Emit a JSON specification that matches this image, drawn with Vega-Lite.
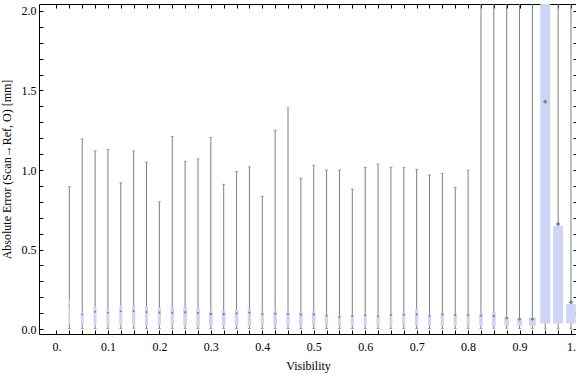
{
  "$schema": "https://vega.github.io/schema/vega-lite/v6.json",
  "autosize": {"type": "none"},
  "padding": {"left": 39, "top": 4, "right": 0, "bottom": 41},
  "width": 538,
  "height": 330,
  "background": "white",
  "config": {
    "view": {"stroke": null},
    "axis": {
      "grid": false,
      "domainColor": "black",
      "tickColor": "black",
      "labelColor": "black",
      "titleColor": "black",
      "labelFont": "Liberation Serif",
      "titleFont": "Liberation Serif",
      "labelFontSize": 12,
      "titleFontSize": 12,
      "titleFontWeight": "normal",
      "tickSize": -4,
      "labelPadding": 6
    }
  },
  "data": {
    "values": [
      {"v": 0.025, "lo": 0.003, "q1": 0.031, "med": 0.150, "q3": 0.187, "hi": 0.895, "n": 10},
      {"v": 0.05, "lo": 0.003, "q1": 0.025, "med": 0.092, "q3": 0.107, "hi": 1.195, "n": 28},
      {"v": 0.075, "lo": 0.003, "q1": 0.025, "med": 0.109, "q3": 0.138, "hi": 1.12, "n": 30},
      {"v": 0.1, "lo": 0.003, "q1": 0.021, "med": 0.103, "q3": 0.130, "hi": 1.13, "n": 30},
      {"v": 0.125, "lo": 0.003, "q1": 0.025, "med": 0.111, "q3": 0.145, "hi": 0.92, "n": 30},
      {"v": 0.15, "lo": 0.005, "q1": 0.021, "med": 0.113, "q3": 0.147, "hi": 1.12, "n": 32},
      {"v": 0.175, "lo": 0.003, "q1": 0.021, "med": 0.107, "q3": 0.143, "hi": 1.05, "n": 32},
      {"v": 0.2, "lo": 0.003, "q1": 0.025, "med": 0.103, "q3": 0.136, "hi": 0.80, "n": 32},
      {"v": 0.225, "lo": 0.003, "q1": 0.025, "med": 0.103, "q3": 0.136, "hi": 1.21, "n": 34},
      {"v": 0.25, "lo": 0.003, "q1": 0.021, "med": 0.105, "q3": 0.138, "hi": 1.055, "n": 38},
      {"v": 0.275, "lo": 0.003, "q1": 0.021, "med": 0.100, "q3": 0.132, "hi": 1.07, "n": 36},
      {"v": 0.3, "lo": 0.003, "q1": 0.021, "med": 0.094, "q3": 0.113, "hi": 1.205, "n": 38},
      {"v": 0.325, "lo": 0.003, "q1": 0.021, "med": 0.094, "q3": 0.113, "hi": 0.91, "n": 38},
      {"v": 0.35, "lo": 0.003, "q1": 0.021, "med": 0.099, "q3": 0.119, "hi": 0.99, "n": 36},
      {"v": 0.375, "lo": 0.003, "q1": 0.019, "med": 0.103, "q3": 0.130, "hi": 1.02, "n": 34},
      {"v": 0.4, "lo": 0.003, "q1": 0.021, "med": 0.094, "q3": 0.111, "hi": 0.835, "n": 32},
      {"v": 0.425, "lo": 0.003, "q1": 0.021, "med": 0.096, "q3": 0.117, "hi": 1.25, "n": 36},
      {"v": 0.45, "lo": 0.003, "q1": 0.021, "med": 0.094, "q3": 0.113, "hi": 1.39, "n": 34},
      {"v": 0.475, "lo": 0.003, "q1": 0.021, "med": 0.092, "q3": 0.113, "hi": 0.948, "n": 36},
      {"v": 0.5, "lo": 0.003, "q1": 0.021, "med": 0.092, "q3": 0.113, "hi": 1.03, "n": 36},
      {"v": 0.525, "lo": 0.003, "q1": 0.015, "med": 0.084, "q3": 0.096, "hi": 1.00, "n": 30},
      {"v": 0.55, "lo": 0.003, "q1": 0.015, "med": 0.075, "q3": 0.088, "hi": 1.00, "n": 30},
      {"v": 0.575, "lo": 0.003, "q1": 0.021, "med": 0.084, "q3": 0.094, "hi": 0.88, "n": 30},
      {"v": 0.6, "lo": 0.003, "q1": 0.021, "med": 0.086, "q3": 0.096, "hi": 1.017, "n": 30},
      {"v": 0.625, "lo": 0.003, "q1": 0.015, "med": 0.080, "q3": 0.090, "hi": 1.037, "n": 30},
      {"v": 0.65, "lo": 0.003, "q1": 0.021, "med": 0.088, "q3": 0.096, "hi": 1.017, "n": 30},
      {"v": 0.675, "lo": 0.003, "q1": 0.021, "med": 0.090, "q3": 0.107, "hi": 1.017, "n": 32},
      {"v": 0.7, "lo": 0.003, "q1": 0.021, "med": 0.092, "q3": 0.126, "hi": 1.004, "n": 32},
      {"v": 0.725, "lo": 0.003, "q1": 0.021, "med": 0.084, "q3": 0.096, "hi": 0.969, "n": 30},
      {"v": 0.75, "lo": 0.003, "q1": 0.021, "med": 0.092, "q3": 0.103, "hi": 0.979, "n": 34},
      {"v": 0.775, "lo": 0.003, "q1": 0.021, "med": 0.088, "q3": 0.096, "hi": 0.891, "n": 32},
      {"v": 0.8, "lo": 0.003, "q1": 0.021, "med": 0.086, "q3": 0.096, "hi": 0.998, "n": 32},
      {"v": 0.825, "lo": 0.003, "q1": 0.021, "med": 0.084, "q3": 0.096, "hi": 2.5, "n": 34},
      {"v": 0.85, "lo": 0.005, "q1": 0.021, "med": 0.082, "q3": 0.103, "hi": 2.5, "n": 40},
      {"v": 0.875, "lo": 0.005, "q1": 0.021, "med": 0.069, "q3": 0.077, "hi": 2.5, "n": 46},
      {"v": 0.9, "lo": 0.003, "q1": 0.021, "med": 0.061, "q3": 0.071, "hi": 2.5, "n": 50},
      {"v": 0.925, "lo": 0.003, "q1": 0.021, "med": 0.062, "q3": 0.073, "hi": 2.5, "n": 68},
      {"v": 0.95, "lo": 0.0, "q1": 0.035, "med": 1.43, "q3": 2.4, "hi": 2.5, "n": 100},
      {"v": 0.975, "lo": 0.0, "q1": 0.035, "med": 0.66, "q3": 0.648, "hi": 2.5, "n": 100},
      {"v": 1.0, "lo": 0.0, "q1": 0.035, "med": 0.168, "q3": 0.157, "hi": 2.5, "n": 95}
    ]
  },
  "resolve": {
    "axis": {"x": "independent", "y": "independent"},
    "scale": {"size": "independent"}
  },
  "layer": [
    {
      "mark": {"type": "rule", "color": "#7f7f7f", "strokeWidth": 1, "clip": true},
      "encoding": {
        "x": {"field": "v", "type": "quantitative", "scale": {"domain": [-0.034, 1.0117], "nice": false, "zero": false, "padding": 0},
          "axis": {
            "orient": "bottom",
            "values": [0,0.025,0.05,0.075,0.1,0.125,0.15,0.175,0.2,0.225,0.25,0.275,0.3,0.325,0.35,0.375,0.4,0.425,0.45,0.475,0.5,0.525,0.55,0.575,0.6,0.625,0.65,0.675,0.7,0.725,0.75,0.775,0.8,0.825,0.85,0.875,0.9,0.925,0.95,0.975,1.0],
            "labelExpr": "abs(datum.value*10 - round(datum.value*10)) < 0.000001 ? (datum.value == 0 ? '0.' : (datum.value >= 0.9999 ? '1.' : format(datum.value, '.1f'))) : ''",
            "labelOverlap": false,
            "labelFlush": false,
            "labelPadding": 11,
            "title": "Visibility",
            "titlePadding": 8
          }},
        "y": {"field": "lo", "type": "quantitative", "scale": {"domain": [-0.0314, 2.044], "nice": false, "zero": false, "padding": 0},
          "axis": {
            "orient": "left",
            "values": [0,0.1,0.2,0.3,0.4,0.5,0.6,0.7,0.8,0.9,1.0,1.1,1.2,1.3,1.4,1.5,1.6,1.7,1.8,1.9,2.0],
            "labelExpr": "abs(datum.value*2 - round(datum.value*2)) < 0.000001 ? format(datum.value, '.1f') : ''",
            "labelOverlap": false,
            "labelFlush": false,
            "labelPadding": 7,
            "title": "Absolute Error (Scan→Ref, O) [mm]",
            "titlePadding": 8
          }},
        "y2": {"field": "hi"}
      }
    },
    {
      "mark": {"type": "tick", "orient": "horizontal", "color": "#7f7f7f", "thickness": 1, "size": 3, "clip": true},
      "encoding": {
        "x": {"field": "v", "type": "quantitative", "axis": null},
        "y": {"field": "hi", "type": "quantitative", "axis": null}
      }
    },
    {
      "mark": {"type": "tick", "orient": "horizontal", "color": "#7f7f7f", "thickness": 1, "size": 3, "clip": true},
      "encoding": {
        "x": {"field": "v", "type": "quantitative", "axis": null},
        "y": {"field": "lo", "type": "quantitative", "axis": null}
      }
    },
    {
      "mark": {"type": "bar", "orient": "vertical", "color": "#cdd4f5", "clip": true},
      "encoding": {
        "x": {"field": "v", "type": "quantitative", "axis": null},
        "y": {"field": "q1", "type": "quantitative", "axis": null},
        "y2": {"field": "q3"},
        "size": {"field": "n", "type": "quantitative", "scale": {"domain": [0, 100], "range": [0, 10]}, "legend": null}
      }
    },
    {
      "mark": {"type": "point", "shape": "diamond", "filled": true, "color": "#7f7f7f", "opacity": 1, "clip": true},
      "encoding": {
        "x": {"field": "v", "type": "quantitative",
          "axis": {
            "orient": "top",
            "values": [0,0.025,0.05,0.075,0.1,0.125,0.15,0.175,0.2,0.225,0.25,0.275,0.3,0.325,0.35,0.375,0.4,0.425,0.45,0.475,0.5,0.525,0.55,0.575,0.6,0.625,0.65,0.675,0.7,0.725,0.75,0.775,0.8,0.825,0.85,0.875,0.9,0.925,0.95,0.975,1.0],
            "labels": false,
            "title": null
          }},
        "y": {"field": "med", "type": "quantitative",
          "axis": {
            "orient": "right",
            "values": [0,0.1,0.2,0.3,0.4,0.5,0.6,0.7,0.8,0.9,1.0,1.1,1.2,1.3,1.4,1.5,1.6,1.7,1.8,1.9,2.0],
            "labels": false,
            "title": null
          }},
        "size": {"field": "n", "type": "quantitative", "scale": {"domain": [0, 100], "range": [0, 20]}, "legend": null}
      }
    }
  ]
}
